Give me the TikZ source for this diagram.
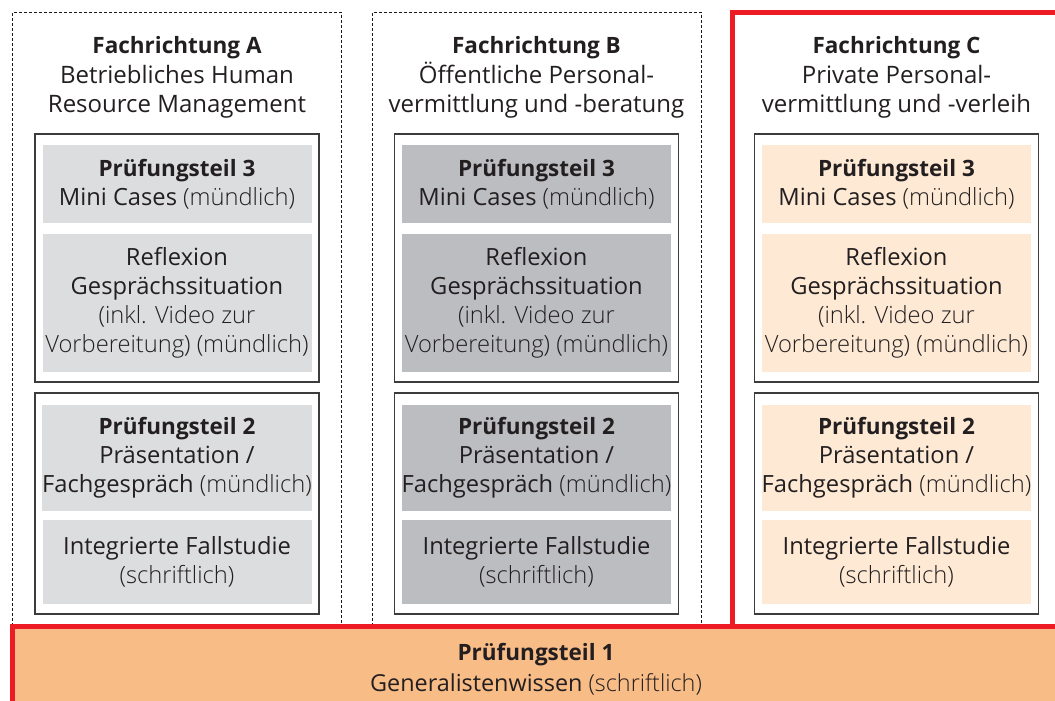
\documentclass[tikz,border=0pt]{standalone}
\usepackage{fontspec}
\setmainfont{Open Sans}
\newfontfamily\lightf{Open Sans Light}
\definecolor{redc}{HTML}{ED1C24}
\definecolor{grayA}{HTML}{DCDDDE}
\definecolor{grayB}{HTML}{BCBDC0}
\definecolor{peach}{HTML}{FDE9D4}
\definecolor{orangec}{HTML}{F8BC87}
\definecolor{txt}{HTML}{231F20}
\definecolor{framec}{HTML}{3C3C3C}
\newcommand\hd[1]{{\fontsize{22.5}{29}\selectfont\bfseries #1}}
\newcommand\lt[1]{{\lightf #1}}
\tikzset{
  frame/.style={draw=framec, line width=1.3pt, minimum width=284pt, inner sep=0pt},
  gbox/.style={minimum width=269pt, inner sep=0pt, align=center, text=txt,
    font=\fontsize{23.7}{29}\selectfont},
  ttl/.style={align=center, text=txt, inner sep=0pt, font=\fontsize{24}{29.5}\selectfont},
  btm/.style={align=center, text=txt, inner sep=0pt, font=\fontsize{23.4}{31}\selectfont},
  dashbox/.style={draw=black!90, line width=1pt, dash pattern=on 3pt off 2pt},
  redline/.style={draw=redc, line width=5pt},
}
\newcommand\fcol[4]{%
  \node[frame, minimum height=248pt] (#2f1) at (#1,258) {};
  \node[frame, minimum height=221pt] (#2f2) at (#1,503.5) {};
  \node[gbox, fill=#3, minimum height=78pt] (#2p3) at (#1,184) {\hd{Prüfungsteil 3}\\Mini Cases \lt{(mündlich)}};
  \node[gbox, fill=#3, minimum height=138pt] (#2r) at (#1,303) {Reflexion\\Gesprächssituation\\\lt{(inkl. Video zur}\\\lt{Vorbereitung) (mündlich)}};
  \node[gbox, fill=#3, minimum height=106pt] (#2p2) at (#1,458) {\hd{Prüfungsteil 2}\\Präsentation /\\Fachgespräch \lt{(mündlich)}};
  \node[gbox, fill=#3, minimum height=84pt] (#2i) at (#1,562) {Integrierte Fallstudie\\\lt{(schriftlich)}};
  \node[ttl] (#2t) at (#1,77.5) {#4};
}
\begin{document}
\begin{tikzpicture}[x=1pt,y=-1pt]
\useasboundingbox (0,0) rectangle (1055,701);
\clip (0,0) rectangle (1055,701);
\fill[white] (0,0) rectangle (1055,701);
% outer boxes
\draw[dashbox] (12.5,626) -- (12.5,12.5) -- (341.5,12.5) -- (341.5,626);
\draw[dashbox] (372,626) -- (372,12.5) -- (701,12.5) -- (701,626);
\draw[redline] (732.5,626) -- (732.5,12.5) -- (1065,12.5);
\fcol{177}{a}{grayA}{\hd{Fachrichtung A}\\Betriebliches Human\\Resource Management}
\fcol{536.5}{b}{grayB}{\hd{Fachrichtung B}\\Öffentliche Personal-\\vermittlung und -beratung}
\fcol{896.5}{c}{peach}{\hd{Fachrichtung C}\\Private Personal-\\vermittlung und -verleih}
% bottom bar
\fill[orangec] (12.5,626) rectangle (1065,712);
\draw[redline] (12.5,712) -- (12.5,626) -- (1065,626);
\node[btm] (p1) at (536,669.5) {\hd{Prüfungsteil 1}\\Generalistenwissen \lt{(schriftlich)}};
\end{tikzpicture}
\end{document}
